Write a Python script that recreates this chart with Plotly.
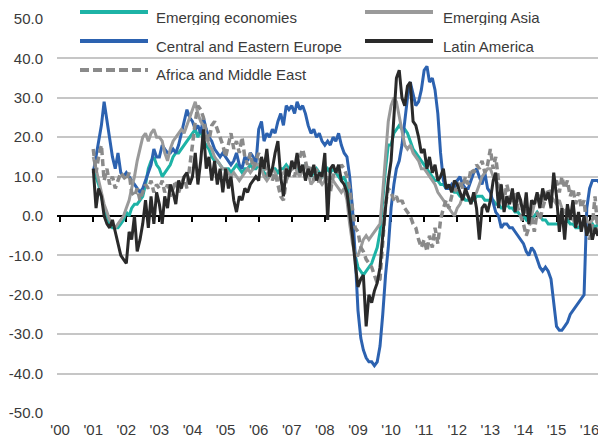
import pandas as pd
import plotly.graph_objects as go

# ---------------- data (monthly, Jan 2001 - Jun 2016) ----------------
emerging_economies = [
    12, 10, 8, 5, 2, 0, -2, -3, -3, -3, -2, -1,
    1, 0, 2, 3, 3, 4, 5, 8, 12, 14, 15, 13,
    12, 10, 11, 12, 13, 15, 16, 16, 17, 18, 19, 20,
    21, 22, 20, 22, 19, 18, 17, 15, 14, 14, 13, 12,
    12, 12, 11, 12, 13, 12, 11, 12, 12, 13, 12, 12,
    13, 12, 11, 10, 11, 12, 12, 11, 12, 12, 13, 12,
    12, 13, 12, 11, 12, 13, 12, 10, 11, 12, 11, 10,
    11, 12, 11, 12, 11, 10, 9, 10, 8, 2, -5, -10,
    -13, -14, -15, -14, -13, -12, -10, -8, -4, 4, 12, 18,
    18, 21, 22, 23, 22, 22, 21, 19, 17, 16, 15, 14,
    13, 12, 11, 10, 9, 9, 8, 8, 7, 7, 7, 6,
    6, 5, 5, 4, 4, 4, 4, 5, 5, 5, 4, 4,
    4, 4, 3, 3, 2, 2, 3, 2, 2, 1, 1, 0,
    0, -1, 0, -1, 0, 1, 0, -1, -1, -2, -2, -2,
    -2, -2, -1, -2, -1, -2, -2, -3, -3, -2, -2, -3,
    -3, -2, -3, -2, -3, -3,
]
central_eastern_europe = [
    11, 15, 19, 23, 29, 24, 19, 15, 12, 16, 11, 10,
    11, 10, 9, 8, 7, 6, 7, 9, 11, 13, 17, 15,
    15, 18, 17, 16, 16, 17, 16, 18, 21, 24, 27, 25,
    24, 22, 23, 21, 25, 22, 20, 19, 17, 16, 15, 16,
    15, 14, 13, 14, 16, 13, 12, 15, 14, 16, 15, 13,
    22, 24, 19, 21, 20, 22, 21, 24, 26, 23, 28, 27,
    28, 26, 29, 27, 28, 26, 23, 21, 22, 20, 21, 19,
    18, 19, 18, 20, 19, 21, 18, 16, 15, 10, 2, -10,
    -24, -31, -34, -36, -37, -37, -38, -37, -33, -25, -15, -8,
    2, 8, 12, 14, 18, 24, 30, 34, 31, 28, 29, 32,
    37, 38, 34, 35, 32, 26, 16, 9, 7, 7, 8, 7,
    9, 10, 8, 7, 7, 9, 11, 12, 10, 8, 11, 7,
    6, 3, 1, 0, -3, -2, -2, -3, -3, -4, -5, -6,
    -7, -9, -10, -8, -9, -11, -13, -14, -13, -14, -16, -22,
    -28, -29, -29, -28, -27, -25, -24, -23, -22, -21, -20, 2,
    7, 9, 9, 9, 8, 6,
]
emerging_asia = [
    15, 12, 9, 6, 3, 1, -1, -2, -3, -2, -1, 0,
    2, 4, 7, 10, 14, 17, 20, 21, 19, 21, 22, 20,
    20, 19, 16, 14, 17, 19, 20, 21, 22, 21, 23, 25,
    27, 29, 26, 24, 23, 20, 18, 17, 15, 14, 13, 12,
    12, 11, 10, 11, 10, 9, 10, 11, 12, 11, 12, 13,
    13, 12, 10, 9, 10, 12, 11, 9, 10, 11, 12, 11,
    12, 13, 11, 10, 12, 13, 11, 8, 9, 10, 9, 8,
    9, 10, 8, 9, 8, 7, 6, 7, 4, -2, -7, -10,
    -10, -8, -6, -5, -6, -5, -4, -3, -2, 6, 15, 24,
    28, 30, 29, 25, 21, 18, 17, 18, 16, 15, 14, 12,
    12, 11, 10, 9, 8, 6, 5, 4, 3, 2, 1, 0,
    2, 3, 5, 6, 5, 4, 5, 6, 8, 10, 11, 12,
    12, 10, 9, 8, 6, 4, 3, 4, 5, 4, 5, 3,
    2, 1, 2, 0, 3, 4, 5, 4, 5, 6, 5, 4,
    3, 4, 2, 1, 2, 0, -1, -2, -1, -3, -2, -1,
    -2, -1, 0, -2, -1, -3,
]
latin_america = [
    12, 2, 7, 5, 0, -2, -3, -1, -4, -7, -10, -11,
    -12, -4, -6, 0, -9, -6, -2, 4, -3, 5, -2, 6,
    3, -2, 5, 2, 8, 6, 3, 9, 7, 10, 11, 8,
    10, 16, 8, 14, 22, 12, 15, 9, 14, 8, 12, 6,
    12, 7, 10, 4, 1, 5, 4, 7, 6, 8, 9, 10,
    9, 15, 12, 17, 10, 12, 16, 19, 10, 5, 12, 10,
    14, 12, 16, 11, 13, 9, 12, 10, 13, 9, 11, 10,
    16, -1, 12, 13, 11, 13, 9, 8, 6, 1, -5, -12,
    -18, -16, -15, -28, -20, -22, -19, -17, -13, -5, 3, 9,
    14, 26, 35, 37, 30, 28, 33, 34, 24, 23, 20, 16,
    17, 12, 15, 11, 13, 9, 10, 12, 7, 8, 6, 9,
    8, 6, 4, 7, 5, 3, 6, 2, -6, 2, 3, 1,
    4, 9, 11, 2, 8, 1, 5, 3, 7, 1, 6, 4,
    0, 6, -2, 4, 3, 6, 2, 7, 4, 6, 2, 11,
    5, -4, 2, -6, 3, -1, 4, -3, 1, -4, 0, -5,
    -2, -6, -3, -5, -2, -7,
]
africa_middle_east = [
    17, 11, 15, 18, 9, 12, 8, 10, 7, 9, 11, 10,
    9, 11, 6, 5, 7, 4, 6, 8, 7, 9, 6, 8,
    7, 9, 6, 8, 5, 7, 9, 6, 8, 10, 7, 12,
    18, 24, 28, 27, 25, 21, 19, 23, 24, 22, 20, 18,
    15, 18, 21, 17, 19, 16, 20, 15, 13, 16, 12, 14,
    16, 12, 14, 10, 12, 9, 11, 8, 5, 4, 9, 11,
    12, 10, 13, 15, 17, 14, 11, 13, 9, 12, 8, 11,
    10, 7, 6, 10, 12, 11, 13, 12, 10, 7, 1, -3,
    -4, -8, -9, -11, -12, -13, -15, -17, -16, -6, 3, 7,
    6, 4, 5, 3, 4, 2, 1, 0, -2, -3, -6, -8,
    -6, -9, -5, -8, -3, -7, -1, 2, 4, 2, 5, 7,
    6, 9, 7, 10, 8, 12, 11, 13, 12, 14, 11, 13,
    17, 12, 15, 9, 7, 4, 8, 5, 3, 6, 2, 0,
    -2, -5, -3, 0, -4, 1, -1, 2, 5, 7, 5, 8,
    9, 6, 10, 7, 9, 5, 7, 3, 6, 2, 4, -3,
    -6, -2, 5, -4, 0, -2,
]
tick_years = list(range(2000, 2017))
tick_labels = ["'%02d" % (y % 100) for y in tick_years]
y_ticks = [50, 40, 30, 20, 10, 0, -10, -20, -30, -40, -50]

dates = pd.date_range("2001-01-01", periods=len(emerging_economies), freq="MS")

FONT = "Liberation Sans, Arial, sans-serif"
FS = 15
TXT = "#3a3a3a"

series = [
    ("Emerging economies", emerging_economies, "#1db3a6", "solid", 3),
    ("Central and Eastern Europe", central_eastern_europe, "#2c62b0", "solid", 3),
    ("Emerging Asia", emerging_asia, "#9a9a9a", "solid", 3),
    ("Africa and Middle East", africa_middle_east, "#8a8a8a", "7px,4px", 3.5),
    ("Latin America", latin_america, "#2a2a2a", "solid", 3),
]

fig = go.Figure()
for name, vals, col, dash, w in series:
    fig.add_trace(go.Scatter(x=dates, y=vals, mode="lines", name=name,
                             line=dict(color=col, width=w, dash=dash),
                             showlegend=False, hoverinfo="skip"))
# dummy trace for the bottom label axis
fig.add_trace(go.Scatter(x=[], y=[], xaxis="x2", showlegend=False))

tickvals = [pd.Timestamp(f"{y}-01-01") for y in tick_years]
xr = ["1999-11-28", "2016-06-30"]

# the page body adds an 8px offset, so the figure is sized to fit inside it
fig.update_layout(
    width=598, height=435,
    margin=dict(l=49, r=0, t=11, b=30),
    paper_bgcolor="white", plot_bgcolor="white",
    font=dict(family=FONT, size=FS, color=TXT),
    xaxis=dict(type="date", range=xr, anchor="free", position=0.5,
               tickvals=tickvals, showticklabels=False, ticks="outside",
               ticklen=5, tickwidth=1.5, tickcolor="black",
               showline=True, linecolor="black", linewidth=1.8,
               showgrid=False, zeroline=False, layer="below traces",
               automargin=False),
    xaxis2=dict(type="date", range=xr, overlaying="x", anchor="y", side="bottom",
                tickvals=tickvals, ticktext=tick_labels, ticks="",
                showline=False, showgrid=False, zeroline=False,
                tickfont=dict(family=FONT, size=FS, color=TXT),
                ticklabelstandoff=6, automargin=False),
    yaxis=dict(range=[-50, 50], tickvals=y_ticks,
               ticktext=["%.1f" % v for v in y_ticks],
               showgrid=True, gridcolor="#c6c6c6", gridwidth=1.6,
               zeroline=False, showline=False, ticks="",
               tickfont=dict(family=FONT, size=FS, color=TXT),
               ticklabelstandoff=13, automargin=False),
)

# manual legend (two columns, three rows); positions given in page pixels
L, W, T, H = 57, 549, 19, 394
def px(x):
    return (x - L) / W
def py(y):
    return (T + H - y) / H

legend_items = [
    ("Emerging economies", 0, 0),
    ("Emerging Asia", 1, 0),
    ("Central and Eastern Europe", 0, 1),
    ("Latin America", 1, 1),
    ("Africa and Middle East", 0, 2),
]
style = {s[0]: s for s in series}
col_x = [(80, 148, 155), (365, 433, 442)]
row_y = [12, 41, 70]
for name, c, r in legend_items:
    _, _, colr, dash, w = style[name]
    x0, x1, tx = col_x[c]
    yy = row_y[r]
    fig.add_shape(type="line", xref="paper", yref="paper",
                  x0=px(x0), x1=px(x1), y0=py(yy), y1=py(yy),
                  line=dict(color=colr, width=4,
                            dash=("9px,4px" if dash != "solid" else "solid")))
    fig.add_annotation(xref="paper", yref="paper", x=px(tx), y=py(yy + 4.5),
                       text=name, showarrow=False, xanchor="left", yanchor="middle",
                       height=16, borderpad=0,
                       font=dict(family=FONT, size=FS, color=TXT))

fig.write_html("out.html")
